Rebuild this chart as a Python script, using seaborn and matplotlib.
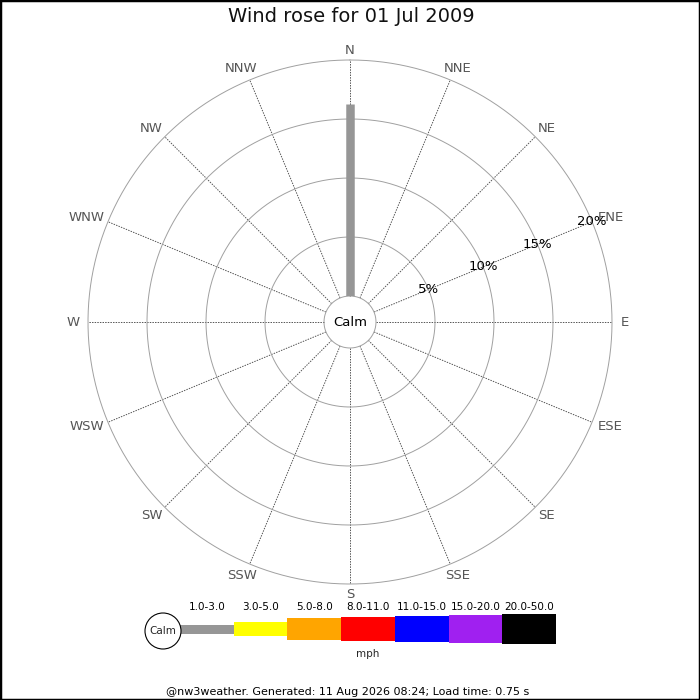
import numpy as np
import matplotlib
matplotlib.use("Agg")
import matplotlib.pyplot as plt
import seaborn as sns
from matplotlib.patches import Circle, Rectangle

# ---- data ----
directions = ["N", "NNE", "NE", "ENE", "E", "ESE", "SE", "SSE",
              "S", "SSW", "SW", "WSW", "W", "WNW", "NW", "NNW"]
speed_bins = ["1.0-3.0", "3.0-5.0", "5.0-8.0", "8.0-11.0",
              "11.0-15.0", "15.0-20.0", "20.0-50.0"]
bin_colors = ["#969696", "#ffff00", "#ffa500", "#ff0000",
              "#0000ff", "#a020f0", "#000000"]

# % of time per direction, one list per speed bin
freq_1_3 = [16.3, 0, 0, 0, 0, 0, 0, 0, 0, 0, 0, 0, 0, 0, 0, 0]
freq_3_5 = [0, 0, 0, 0, 0, 0, 0, 0, 0, 0, 0, 0, 0, 0, 0, 0]
freq_5_8 = [0, 0, 0, 0, 0, 0, 0, 0, 0, 0, 0, 0, 0, 0, 0, 0]
freq_8_11 = [0, 0, 0, 0, 0, 0, 0, 0, 0, 0, 0, 0, 0, 0, 0, 0]
freq_11_15 = [0, 0, 0, 0, 0, 0, 0, 0, 0, 0, 0, 0, 0, 0, 0, 0]
freq_15_20 = [0, 0, 0, 0, 0, 0, 0, 0, 0, 0, 0, 0, 0, 0, 0, 0]
freq_20_50 = [0, 0, 0, 0, 0, 0, 0, 0, 0, 0, 0, 0, 0, 0, 0, 0]
freqs = [freq_1_3, freq_3_5, freq_5_8, freq_8_11, freq_11_15, freq_15_20, freq_20_50]

ring_levels = [5, 10, 15, 20]
title = "Wind rose for 01 Jul 2009"
footer = "@nw3weather. Generated: 11 Aug 2026 08:24; Load time: 0.75 s"

# bar thickness (px) per speed bin
bin_px = [8.5, 14, 21, 23, 25, 27, 29]

sns.set_theme(style="white")
plt.rcParams["font.family"] = ["DejaVu Sans"]

fig = plt.figure(figsize=(7, 7), dpi=100)
PX = 72 / fig.dpi

# polar rose, centre (350,322), outer ring radius 262 px, calm hole 26 px
rmax = ring_levels[-1]
R = 262
hole = 26
ax = fig.add_axes([(350 - R) / 700, (700 - 322 - R) / 700, 2 * R / 700, 2 * R / 700],
                  projection="polar")
ax.set_theta_zero_location("N")
ax.set_theta_direction(-1)
ax.set_ylim(0, rmax)
ax.set_rorigin(-hole * rmax / (R - hole))
ax.grid(False)
ax.set_xticks([])
ax.set_yticks([])
for sp in ax.spines.values():
    sp.set_visible(False)
    sp.set_edgecolor("none")
    sp.set_linewidth(0)
ax.patch.set_alpha(0)

thetas = np.deg2rad(np.arange(len(directions)) * 360 / len(directions))
circ = np.linspace(0, 2 * np.pi, 400)

# spokes
for t in thetas:
    ax.plot([t, t], [0, rmax], color="#555555", lw=0.7, ls=(0, (1.5, 1.2)),
            zorder=1, clip_on=False)

# rings (incl. calm circle)
for lvl in [0] + ring_levels:
    ax.plot(circ, np.full_like(circ, lvl), color="#a0a0a0", lw=0.7, zorder=2,
            clip_on=False)

# stacked bars
base = np.zeros(len(directions))
for k, vals in enumerate(freqs):
    for i, v in enumerate(vals):
        if v > 0:
            ax.plot([thetas[i], thetas[i]], [base[i], base[i] + v],
                    color=bin_colors[k], lw=bin_px[k] * PX,
                    solid_capstyle="butt", zorder=3)
    base += np.array(vals)

# direction labels: centred just outside the rim, pushed outward by part of their size
renderer = fig.canvas.get_renderer()
lab_r = rmax + (272 - R) * (rmax + hole * rmax / (R - hole)) / R
for t, d in zip(thetas, directions):
    probe = fig.text(0, 0, d, fontsize=9.5)
    half_w = probe.get_window_extent(renderer).width / 2
    probe.remove()
    dx = 0.75 * half_w * np.sin(t) * PX
    dy = 2 * np.cos(t) * min(1, 4 * abs(np.sin(t))) * PX
    ax.annotate(d, xy=(t, lab_r), xytext=(dx, dy), textcoords="offset points",
                ha="center", va="center", fontsize=9.5, color="#555555",
                annotation_clip=False)

# ring labels along ENE
lab_t = thetas[directions.index("ENE")]
for lvl in ring_levels:
    ax.text(lab_t, lvl, f"{lvl}%", ha="center", va="center", fontsize=9.5,
            color="black", zorder=4)

ax.text(0.5, 0.5, "Calm", transform=ax.transAxes, ha="center", va="center",
        fontsize=9.5, color="black")

# overlay in pixel coordinates for title / legend / footer
ov = fig.add_axes([0, 0, 1, 1])
ov.set_xlim(0, 700)
ov.set_ylim(700, 0)
ov.axis("off")
ov.patch.set_alpha(0)

ov.text(351, 17, title, ha="center", va="center", fontsize=14, color="#111111")

# legend
seg_w = 53.7
x0 = 180
yc = 629
for k, lab in enumerate(speed_bins):
    ov.bar(x0 + k * seg_w, bin_px[k] + 0.5, bottom=yc - (bin_px[k] + 0.5) / 2,
           width=seg_w, align="edge", color=bin_colors[k], linewidth=0)
    ov.text(x0 + (k + 0.5) * seg_w, 607, lab, ha="center", va="center",
            fontsize=7.5, color="black")
ov.add_patch(Circle((163, 631), 18, facecolor="white", edgecolor="black", lw=0.8))
ov.text(163, 631, "Calm", ha="center", va="center", fontsize=7.5)
ov.text(x0 + 3.5 * seg_w, 654, "mph", ha="center", va="center", fontsize=7.5)

ov.text(348, 692, footer, ha="center", va="center", fontsize=8, color="black")

fig.patches.append(Rectangle((0, 0), 1, 1, transform=fig.transFigure, fill=False,
                             edgecolor="black", lw=2.5, figure=fig))

fig.savefig("out.png", dpi=100)
